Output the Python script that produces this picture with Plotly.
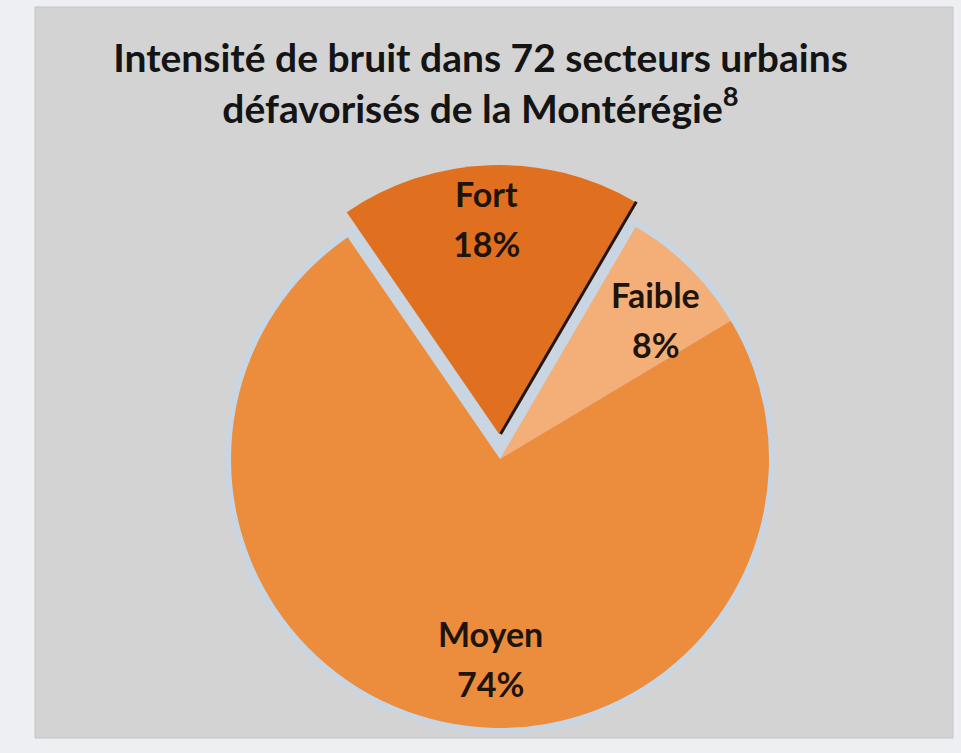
import math
import plotly.graph_objects as go

# Noise intensity categories and their shares (%)
labels = ["Fort", "Faible", "Moyen"]
values = [18, 8, 74]
pull = [0.093, 0, 0]
colors = ["#E0701F", "#F3AF77", "#EB8D3D"]
title_lines = [
    "Intensité de bruit dans 72 secteurs urbains",
    "défavorisés de la Montérégie<sup>8</sup>",
]

# Canvas and pie geometry (pixels)
W, H = 961, 753
CX, CY, R = 500, 459, 269
ROTATION = -34.5          # first slice starts here, degrees clockwise from 12 o'clock
GLOW = 6                  # pale halo around the pie
PANEL = (35, 7, 953, 738)  # grey card behind the chart

# radial position of the slice labels and small per-label nudges (pixels)
LABEL_RADIUS = {"Fort": 0.8, "Faible": 0.76, "Moyen": 0.76}
LABEL_NUDGE = {"Fort": (-5, 0), "Faible": (12, 6), "Moyen": (34, 0)}
LABEL_GAP = 25

OUTER_BG = "#EEEFF2"
PANEL_BG = "#D3D3D3"
GLOW_COLOR = "#C9D5E1"
TEXT_COLOR = "#1E140C"
FONT = "Lato"


def px_domain(cx, cy, half):
    return dict(
        x=[max(0, (cx - half) / W), min(1, (cx + half) / W)],
        y=[max(0, 1 - (cy + half) / H), min(1, 1 - (cy - half) / H)],
    )


max_pull = max(pull)
fig = go.Figure()

# halo behind the pie (shows through the gap of the pulled slice)
fig.add_trace(go.Pie(
    values=[sum(values)], labels=["Total"], sort=False,
    marker=dict(colors=[GLOW_COLOR], line=dict(width=0)),
    textinfo="none", hoverinfo="skip", showlegend=False,
    domain=px_domain(CX, CY, R + GLOW),
))

fig.add_trace(go.Pie(
    labels=labels, values=values, pull=pull, sort=False,
    direction="clockwise", rotation=ROTATION,
    marker=dict(colors=colors, line=dict(width=0)),
    textinfo="none", showlegend=False,
    domain=px_domain(CX, CY, R * (1 + max_pull)),
))

# slice labels placed along each slice's bisector
total = sum(values)
cum = 0
annotations = []
shapes = []
for lab, v, p in zip(labels, values, pull):
    a0 = ROTATION + 360 * cum / total
    a1 = ROTATION + 360 * (cum + v) / total
    mid = math.radians((a0 + a1) / 2)
    cx = CX + p * R * math.sin(mid)
    cy = CY - p * R * math.cos(mid)
    f = LABEL_RADIUS[lab]
    nx, ny = LABEL_NUDGE[lab]
    lx = cx + f * R * math.sin(mid) + nx
    ly = cy - f * R * math.cos(mid) + ny
    pct = f"{round(100 * v / total)}%"
    for txt, dy in ((lab, -LABEL_GAP), (pct, LABEL_GAP)):
        annotations.append(dict(
            x=lx / W, y=1 - (ly + dy) / H, xref="paper", yref="paper",
            text=txt, showarrow=False, xanchor="center", yanchor="middle",
            font=dict(family=FONT, size=34, color=TEXT_COLOR, weight="bold"),
        ))
    if p > 0:
        # dark shadow on the trailing edge of the pulled slice
        a = math.radians(a1)
        ex = cx + R * math.sin(a)
        ey = cy - R * math.cos(a)
        shapes.append(dict(
            type="line", xref="paper", yref="paper",
            x0=(cx + 1.5) / W, y0=1 - cy / H, x1=(ex + 1.5) / W, y1=1 - ey / H,
            line=dict(color="#24160C", width=3), layer="above",
        ))
    cum += v

shapes.insert(0, dict(
    type="rect", xref="paper", yref="paper", layer="below",
    x0=PANEL[0] / W, y0=1 - PANEL[3] / H, x1=PANEL[2] / W, y1=1 - PANEL[1] / H,
    fillcolor=PANEL_BG, line=dict(width=1, color="#C4C4C4"),
))

fig.update_layout(
    width=W, height=H,
    margin=dict(l=0, r=0, t=0, b=0),
    paper_bgcolor=OUTER_BG,
    plot_bgcolor=OUTER_BG,
    title=dict(
        text="<br>".join(title_lines),
        x=0.5, xanchor="center", y=1 - 72 / H, yanchor="middle",
        font=dict(family=FONT, size=39, color="#141414", weight="bold"),
    ),
    annotations=annotations,
    shapes=shapes,
)

fig.write_html("out.html")
